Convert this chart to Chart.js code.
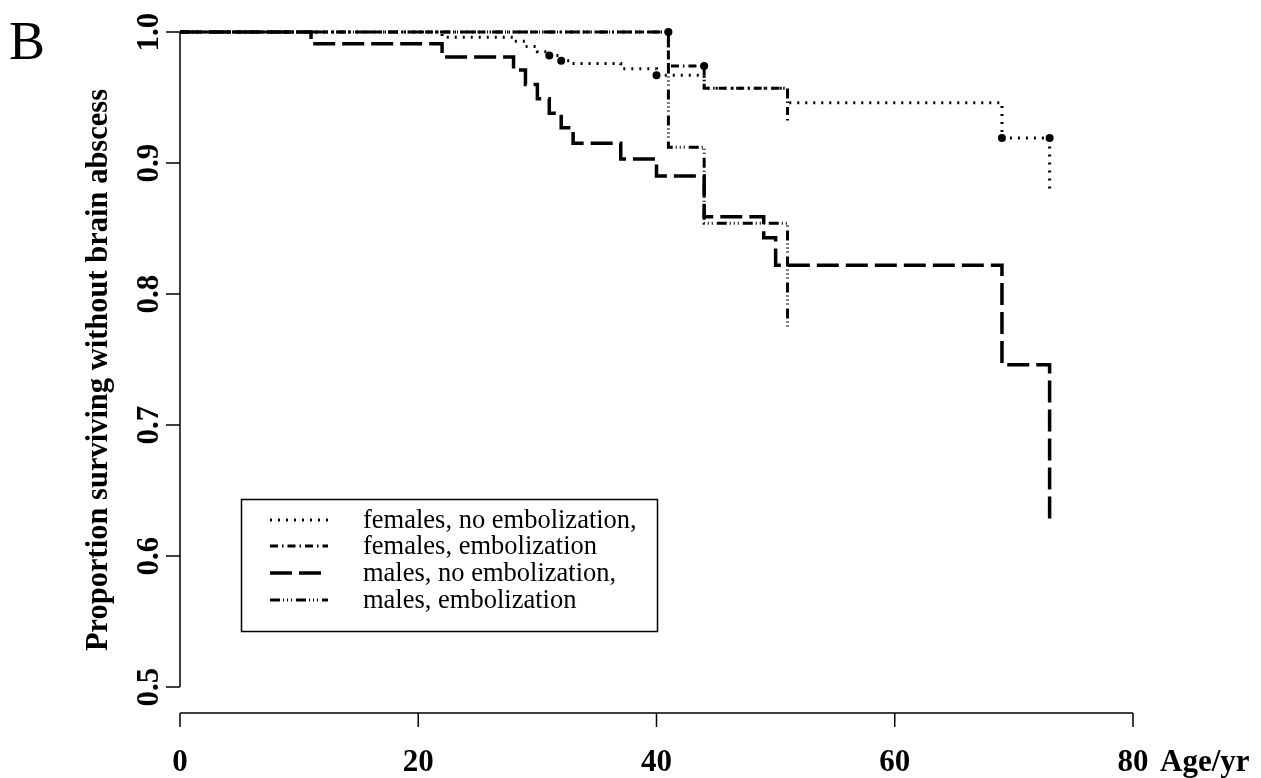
<!DOCTYPE html>
<html>
<head>
<meta charset="utf-8">
<script src="https://cdn.jsdelivr.net/npm/chart.js@4/dist/chart.umd.min.js"></script>
<style>
  html, body { margin: 0; padding: 0; background: #fff; }
</style>
</head>
<body>
<canvas id="kmChart" width="1261" height="778"></canvas>
<script>
// Axis ticks
const xTicks = [0, 20, 40, 60, 80];
const yTicks = [0.5, 0.6, 0.7, 0.8, 0.9, 1.0];

// Kaplan-Meier steps (age at event, survival after the step)
const femNoEmbAge  = [0, 22, 28, 29, 30, 31, 32, 32.8, 37, 40, 44, 51, 69, 73];
const femNoEmbSurv = [1.0, 0.996, 0.993, 0.989, 0.985, 0.982, 0.978, 0.976, 0.972, 0.967, 0.957, 0.946, 0.919, 0.877];

const femEmbAge  = [0, 41, 44, 51];
const femEmbSurv = [1.0, 0.974, 0.957, 0.931];

const maleNoEmbAge  = [0, 11, 22, 28, 29, 30, 31, 32, 33, 37, 40, 44, 49, 50, 69, 73];
const maleNoEmbSurv = [1.0, 0.991, 0.981, 0.971, 0.960, 0.949, 0.938, 0.927, 0.915, 0.903, 0.890, 0.859, 0.843, 0.822, 0.746, 0.624];

const maleEmbAge  = [0, 41, 44, 51];
const maleEmbSurv = [1.0, 0.912, 0.854, 0.775];

// censoring marks (filled dots)
const censorAge  = [31, 32, 40, 69, 73, 41, 44];
const censorSurv = [0.982, 0.978, 0.967, 0.919, 0.919, 1.0, 0.974];

const seriesLabels = ['females, no embolization,', 'females, embolization', 'males, no embolization,', 'males, embolization'];

const toPoints = (xs, ys) => xs.map((x, i) => ({ x: x, y: ys[i] }));

function stepSet(label, xs, ys, width, dash) {
    return {
        label: label,
        data: toPoints(xs, ys),
        borderColor: '#000',
        borderWidth: width,
        borderDash: dash,
        stepped: 'before',
        pointRadius: 0,
        fill: false,
        clip: false
    };
}

// R-style detached axes, rotated tick labels, panel letter and the boxed legend
const rAxes = {
    id: 'rAxes',
    afterDraw(chart) {
        const c = chart.ctx;
        const xs = chart.scales.x, ys = chart.scales.y;
        const serif = '"Liberation Serif", "Times New Roman", serif';
        c.save();
        c.strokeStyle = '#000';
        c.fillStyle = '#000';
        c.lineWidth = 1.5;

        // y axis
        const ax = xs.getPixelForValue(0);
        c.beginPath();
        c.moveTo(ax, ys.getPixelForValue(yTicks[0]));
        c.lineTo(ax, ys.getPixelForValue(yTicks[yTicks.length - 1]));
        yTicks.forEach(v => {
            const p = ys.getPixelForValue(v);
            c.moveTo(ax - 14, p);
            c.lineTo(ax, p);
        });
        c.stroke();

        c.font = 'bold 31px ' + serif;
        c.textAlign = 'center';
        c.textBaseline = 'alphabetic';
        yTicks.forEach(v => {
            c.save();
            c.translate(158, ys.getPixelForValue(v));
            c.rotate(-Math.PI / 2);
            c.fillText(v.toFixed(1), 0, 0);
            c.restore();
        });

        // y title
        c.font = 'bold 30.5px ' + serif;
        c.save();
        c.translate(107, 370);
        c.rotate(-Math.PI / 2);
        c.fillText('Proportion surviving without brain abscess', 0, 0);
        c.restore();

        // x axis, sits below the plot region
        const ay = ys.bottom + 26;
        c.beginPath();
        c.moveTo(xs.getPixelForValue(xTicks[0]), ay);
        c.lineTo(xs.getPixelForValue(xTicks[xTicks.length - 1]), ay);
        xTicks.forEach(v => {
            const p = xs.getPixelForValue(v);
            c.moveTo(p, ay);
            c.lineTo(p, ay + 14);
        });
        c.stroke();

        c.font = 'bold 31px ' + serif;
        xTicks.forEach(v => c.fillText(String(v), xs.getPixelForValue(v), 771));
        c.textAlign = 'left';
        c.fillText('Age/yr', 1160, 771);

        // panel letter
        c.font = '54px ' + serif;
        c.fillText('B', 9, 59);

        // legend
        c.lineWidth = 1.5;
        c.strokeRect(241.5, 499.5, 416, 132);
        const rows = [520, 546, 573, 600];
        c.font = '26.5px ' + serif;
        c.textBaseline = 'middle';
        chart.data.datasets.slice(0, 4).forEach((ds, i) => {
            c.save();
            c.lineWidth = ds.borderWidth;
            c.setLineDash(ds.borderDash || []);
            c.beginPath();
            c.moveTo(270, rows[i]);
            c.lineTo(328, rows[i]);
            c.stroke();
            c.restore();
            c.fillText(ds.label, 363, rows[i] + 1);
        });
        c.restore();
    }
};

const chart = new Chart(document.getElementById('kmChart').getContext('2d'), {
    type: 'line',
    data: {
        datasets: [
            stepSet(seriesLabels[0], femNoEmbAge, femNoEmbSurv, 3, [2, 6]),
            stepSet(seriesLabels[1], femEmbAge, femEmbSurv, 3, [8, 4, 1.5, 4]),
            stepSet(seriesLabels[2], maleNoEmbAge, maleNoEmbSurv, 3.5, [22, 7]),
            stepSet(seriesLabels[3], maleEmbAge, maleEmbSurv, 3, [10, 3, 1, 3, 1, 3, 1, 4]),
            {
                label: 'censored',
                data: toPoints(censorAge, censorSurv),
                showLine: false,
                pointRadius: 4,
                pointBackgroundColor: '#000',
                pointBorderWidth: 0,
                clip: false
            }
        ]
    },
    options: {
        responsive: false,
        animation: false,
        layout: { padding: { left: 180, right: 128, top: 32, bottom: 91 } },
        plugins: { legend: { display: false }, tooltip: { enabled: false } },
        scales: {
            x: { type: 'linear', min: 0, max: 80, display: false },
            y: { type: 'linear', min: 0.5, max: 1.0, display: false }
        }
    },
    plugins: [rAxes]
});
</script>
</body>
</html>
